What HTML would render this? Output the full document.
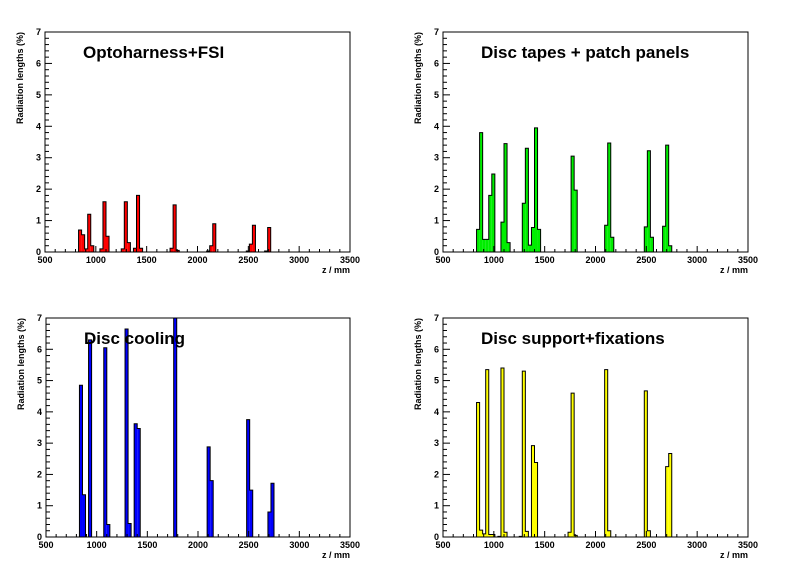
<!DOCTYPE html>
<html><head><meta charset="utf-8">
<style>
html,body{margin:0;padding:0;background:#fff;}
svg{display:block;font-family:"Liberation Sans",Arial,sans-serif;}
</style></head>
<body>
<svg id="chart" width="796" height="572" viewBox="0 0 796 572" xmlns="http://www.w3.org/2000/svg"></svg>
<script>
const BIN = 30;
const xTicks = [500,1000,1500,2000,2500,3000,3500];
const yTicks = [0,1,2,3,4,5,6,7];
const titles = ["Optoharness+FSI","Disc tapes + patch panels","Disc cooling","Disc support+fixations"];
const colors = ["#ff0000","#00ee00","#0000ff","#ffff00"];
const z1 = [830,860,890,920,950,1040,1070,1100,1250,1280,1310,1370,1400,1430,1730,1760,1790,2090,2120,2150,2480,2510,2540,2660,2690];
const v1 = [0.7,0.55,0.1,1.2,0.2,0.1,1.6,0.5,0.1,1.6,0.3,0.12,1.8,0.12,0.12,1.5,0.05,0.03,0.2,0.9,0.03,0.25,0.85,0.03,0.78];
const z2 = [830,860,890,920,950,980,1070,1100,1130,1280,1310,1340,1370,1400,1430,1760,1790,2090,2120,2150,2480,2510,2540,2660,2690,2720];
const v2 = [0.72,3.8,0.4,0.4,1.8,2.48,0.95,3.45,0.3,1.55,3.3,0.22,0.78,3.95,0.72,3.05,1.97,0.85,3.47,0.47,0.8,3.22,0.47,0.82,3.4,0.2];
const z3 = [830,860,920,1070,1100,1280,1310,1370,1400,1760,2090,2120,2480,2510,2690,2720];
const v3 = [4.85,1.35,6.3,6.05,0.4,6.65,0.43,3.62,3.47,7.0,2.88,1.8,3.75,1.5,0.8,1.72];
const z4 = [830,860,890,920,950,980,1040,1070,1100,1250,1280,1310,1370,1400,1730,1760,1790,2090,2120,2480,2510,2690,2720];
const v4 = [4.3,0.22,0.1,5.35,0.08,0.08,0.02,5.4,0.15,0.02,5.3,0.18,2.92,2.38,0.15,4.6,0.05,5.35,0.2,4.67,0.2,2.25,2.67];
const zs=[z1,z2,z3,z4], vs=[v1,v2,v3,v4];
const frames=[{l:45,r:350,t:32,b:252},{l:443,r:748,t:32,b:252},{l:46,r:350,t:318,b:537},{l:443,r:748,t:318,b:537}];
const NS="http://www.w3.org/2000/svg";
const svg=document.getElementById('chart');
function mk(tag,attrs,parent){const e=document.createElementNS(NS,tag);for(const k in attrs)e.setAttribute(k,attrs[k]);parent.appendChild(e);return e;}
frames.forEach((f,p)=>{
  const g=mk('g',{},svg);
  
  
  const X=z=>f.l+(z-500)/3000*(f.r-f.l);
  const Y=v=>f.b-Math.min(v,7)/7*(f.b-f.t);
  const zz=zs[p], vv=vs[p];
  zz.forEach((z,i)=>{
    const r=mk('rect',{x:X(z),y:Y(vv[i]),width:X(z+BIN)-X(z),height:f.b-Y(vv[i]),fill:colors[p]},g);
    
    
  });
  // step outline per contiguous group
  let d='';
  for(let i=0;i<zz.length;i++){
    const start=(i===0||zz[i-1]+BIN!==zz[i]);
    if(start) d+=`M${X(zz[i])},${f.b}`;
    d+=`L${X(zz[i])},${Y(vv[i])}L${X(zz[i]+BIN)},${Y(vv[i])}`;
    const end=(i===zz.length-1||zz[i]+BIN!==zz[i+1]);
    if(end) d+=`L${X(zz[i]+BIN)},${f.b}`;
  }
  const ol=mk('path',{d:d,fill:'none',stroke:'#000','stroke-width':1},g);
  
  
  const fr=mk('rect',{x:f.l,y:f.t,width:f.r-f.l,height:f.b-f.t,fill:'none',stroke:'#000','stroke-width':1},g);
  
  
  for(let z=500;z<=3500;z+=100){
    const major=(z%500===0);
    mk('line',{x1:X(z),x2:X(z),y1:f.b,y2:f.b-(major?6:3),stroke:'#000'},g);
  }
  for(let v=0;v<=7.001;v+=0.2){
    const major=Math.abs(v-Math.round(v))<0.01;
    mk('line',{x1:f.l,x2:f.l+(major?7:4),y1:Y(v),y2:Y(v),stroke:'#000'},g);
  }
  xTicks.forEach(t=>{
    const tx=mk('text',{x:X(t),y:f.b+11,'font-size':9,'font-weight':'bold','text-anchor':'middle'},g);
    tx.textContent=t;
    
    
  });
  yTicks.forEach(t=>{
    const ty=mk('text',{x:f.l-4,y:Y(t)+3,'font-size':9,'font-weight':'bold','text-anchor':'end'},g);
    ty.textContent=t;
    
    
  });
  const xt=mk('text',{x:f.r,y:f.b+21,'font-size':9,'font-weight':'bold','text-anchor':'end'},g);
  xt.textContent='z / mm';
  
  
  const yt=mk('text',{x:0,y:0,'font-size':9,'font-weight':'bold','text-anchor':'end',transform:`translate(${f.l-22},${f.t}) rotate(-90)`},g);
  yt.textContent='Radiation lengths (%)';
  
  
  const tt=mk('text',{x:f.l+38,y:f.t+26,'font-size':17,'font-weight':'bold'},g);
  tt.textContent=titles[p];
  
  
});
</script>
</body></html>
